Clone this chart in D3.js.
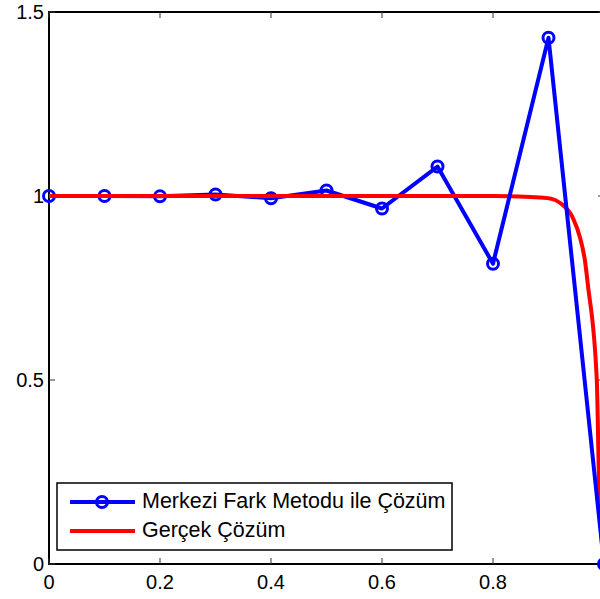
<!DOCTYPE html>
<html>
<head>
<meta charset="utf-8">
<script src="https://cdn.jsdelivr.net/npm/d3@7"></script>
<style>
  body { margin: 0; background: #fff; }
  text { font-family: "Liberation Sans", Arial, sans-serif; }
</style>
</head>
<body>
<script>
const w = 600;
const h = 599;

// numerical solution (central difference)
const fdX = [0, 0.1, 0.2, 0.3, 0.4, 0.5, 0.6, 0.7, 0.8, 0.9, 1.0];
const fdY = [1, 1, 0.999, 1.004, 0.994, 1.015, 0.966, 1.08, 0.816, 1.43, 0];

// exact solution
const exX = [0, 0.5, 0.8, 0.867, 0.903, 0.921, 0.944, 0.957, 0.966, 0.971, 0.987, 0.991, 1.0];
const exY = [1, 1, 1, 0.997, 0.993, 0.981, 0.94, 0.886, 0.821, 0.758, 0.5, 0.228, 0];

const xTicks = [0, 0.2, 0.4, 0.6, 0.8, 1];
const yTicks = [0, 0.5, 1, 1.5];
const legendLabels = ["Merkezi Fark Metodu ile Çözüm", "Gerçek Çözüm"];

const x = d3.scaleLinear().domain([0, 1]).range([49, 604]);
const y = d3.scaleLinear().domain([0, 1.5]).range([564, 12]);

const svg = d3.select("body").append("svg").attr("width", w).attr("height", h);

// frame
svg.append("rect")
  .attr("x", x(0)).attr("y", y(1.5))
  .attr("width", x(1) - x(0)).attr("height", y(0) - y(1.5))
  .attr("fill", "none").attr("stroke", "#000").attr("stroke-width", 2);

// inward ticks
const tk = svg.append("g").attr("stroke", "#333").attr("stroke-width", 1);
xTicks.forEach((t) => {
  tk.append("line").attr("x1", x(t)).attr("x2", x(t)).attr("y1", y(0)).attr("y2", y(0) - 6);
  tk.append("line").attr("x1", x(t)).attr("x2", x(t)).attr("y1", y(1.5)).attr("y2", y(1.5) + 6);
});
yTicks.forEach((t) => {
  tk.append("line").attr("x1", x(0)).attr("x2", x(0) + 6).attr("y1", y(t)).attr("y2", y(t));
  tk.append("line").attr("x1", x(1)).attr("x2", x(1) - 6).attr("y1", y(t)).attr("y2", y(t));
});

// x labels (the last one falls off the page edge, as in the original)
svg.selectAll(".xl").data(xTicks.slice(0, 5)).join("text")
  .attr("x", (d) => x(d)).attr("y", y(0) + 25)
  .attr("text-anchor", "middle").attr("font-size", 20)
  .text((d) => d3.format("")(d));

svg.selectAll(".yl").data(yTicks).join("text")
  .attr("x", x(0) - 5).attr("y", (d) => y(d) + 7)
  .attr("text-anchor", "end").attr("font-size", 20)
  .text((d) => d3.format("")(d));

// exact solution
const exData = exX.map((v, i) => [v, exY[i]]);
svg.append("path")
  .datum(exData)
  .attr("fill", "none").attr("stroke", "#ff0000").attr("stroke-width", 4)
  .attr("d", d3.line().x((d) => x(d[0])).y((d) => y(d[1])).curve(d3.curveMonotoneX));

// numerical
const fdData = fdX.map((v, i) => [v, fdY[i]]);
svg.append("path")
  .datum(fdData)
  .attr("fill", "none").attr("stroke", "#0000ff").attr("stroke-width", 4)
  .attr("stroke-linejoin", "round")
  .attr("d", d3.line().x((d) => x(d[0])).y((d) => y(d[1])));

svg.selectAll(".mk").data(fdData).join("circle")
  .attr("cx", (d) => x(d[0])).attr("cy", (d) => y(d[1])).attr("r", 5.5)
  .attr("fill", "none").attr("stroke", "#0000ff").attr("stroke-width", 3);

// redraw the exact curve's flat part over the markers, as in the picture
svg.append("path")
  .datum(exData.slice(0, 3))
  .attr("fill", "none").attr("stroke", "#ff0000").attr("stroke-width", 4)
  .attr("d", d3.line().x((d) => x(d[0])).y((d) => y(d[1])));

// legend
const lg = svg.append("g");
lg.append("rect").attr("x", 57).attr("y", 483).attr("width", 395).attr("height", 67)
  .attr("fill", "#fff").attr("stroke", "#000").attr("stroke-width", 1.5);
lg.append("line").attr("x1", 70).attr("x2", 135).attr("y1", 502).attr("y2", 502)
  .attr("stroke", "#0000ff").attr("stroke-width", 4);
lg.append("circle").attr("cx", 102).attr("cy", 502).attr("r", 5.5)
  .attr("fill", "none").attr("stroke", "#0000ff").attr("stroke-width", 3);
lg.append("line").attr("x1", 70).attr("x2", 135).attr("y1", 531).attr("y2", 531)
  .attr("stroke", "#ff0000").attr("stroke-width", 4);
lg.selectAll("text").data(legendLabels).join("text")
  .attr("x", 142).attr("y", (d, i) => 508 + i * 29)
  .attr("font-size", 21.5)
  .text((d) => d);
</script>
</body>
</html>
